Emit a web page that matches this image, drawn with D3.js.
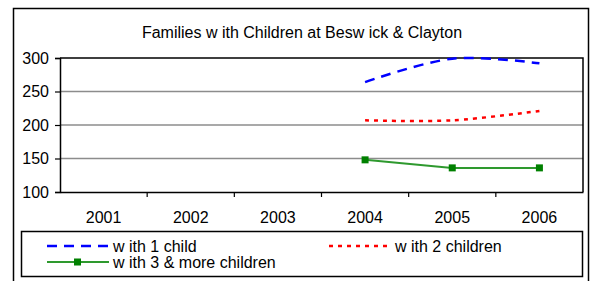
<!DOCTYPE html>
<html>
<head>
<meta charset="utf-8">
<script src="https://cdn.jsdelivr.net/npm/d3@7"></script>
<style>
body { margin: 0; background: #fff; }
text { font-family: "Liberation Sans", Arial, sans-serif; fill: #000; }
</style>
</head>
<body>
<div id="chart"></div>
<script>
var years = ["2001", "2002", "2003", "2004", "2005", "2006"];
var yTicks = [100, 150, 200, 250, 300];

// null = no value for that year
var oneChild = [null, null, null, 264, 299, 292];
var twoChildren = [null, null, null, 207, 207, 221];
var threeMore = [null, null, null, 148, 136, 136];

var title = "Families w ith Children at Besw ick & Clayton";
var seriesNames = ["w ith 1 child", "w ith 2 children", "w ith 3 & more children"];

var width = 590;
var height = 281;

var plot = {left: 60, right: 583, top: 58, bottom: 192};

var svg = d3.select("#chart")
	.append("svg")
	.attr("width", width)
	.attr("height", height);

// outer frame
svg.append("rect")
	.attr("x", 13.5).attr("y", 8.5)
	.attr("width", 575).attr("height", 290)
	.style("fill", "none").style("stroke", "#000").style("stroke-width", 1.5);

svg.append("text")
	.attr("x", 302).attr("y", 37.5)
	.attr("text-anchor", "middle")
	.style("font-size", "16px")
	.text(title);

var x = d3.scaleBand().domain(years).range([plot.left, plot.right]);
var y = d3.scaleLinear().domain([100, 300]).range([plot.bottom, plot.top]);

// grid
svg.append("g").selectAll("line").data(yTicks.slice(1, -1))
	.enter().append("line")
	.attr("x1", plot.left).attr("x2", plot.right)
	.attr("y1", function(d) { return y(d); })
	.attr("y2", function(d) { return y(d); })
	.style("stroke", "#8c8c8c").style("stroke-width", 1.5);

// frame top + right
svg.append("path")
	.attr("d", "M" + plot.left + "," + plot.top + "H" + plot.right + "V" + plot.bottom)
	.style("fill", "none").style("stroke", "#000").style("stroke-width", 1.5);

var yAxis = svg.append("g")
	.attr("transform", "translate(" + plot.left + ",0)")
	.call(d3.axisLeft(y).tickValues(yTicks).tickSize(5).tickPadding(6));

var xAxis = svg.append("g")
	.attr("transform", "translate(0," + plot.bottom + ")")
	.call(d3.axisBottom(x).tickSize(0).tickPadding(20));

// ticks between categories
xAxis.selectAll(".between").data(years.slice(1))
	.enter().append("line")
	.attr("class", "between")
	.attr("x1", function(d) { return x(d); })
	.attr("x2", function(d) { return x(d); })
	.attr("y1", 0).attr("y2", 5)
	.style("stroke", "#000").style("stroke-width", 1.2);

[yAxis, xAxis].forEach(function(a) {
	a.select(".domain").style("stroke", "#000").style("stroke-width", 1.5);
	a.selectAll(".tick line").style("stroke", "#000").style("stroke-width", 1.2);
	a.selectAll("text").style("font-size", "16px")
		.style("font-family", "'Liberation Sans', Arial, sans-serif").attr("fill", "#000");
});

function pts(vals) {
	return vals.map(function(v, i) { return {year: years[i], v: v}; })
		.filter(function(d) { return d.v != null; });
}

// excel style smoothing
var smooth = d3.line()
	.x(function(d) { return x(d.year) + x.bandwidth() / 2; })
	.y(function(d) { return y(d.v); })
	.curve(d3.curveCardinal.tension(0));

var straight = d3.line()
	.x(function(d) { return x(d.year) + x.bandwidth() / 2; })
	.y(function(d) { return y(d.v); });

svg.append("path")
	.attr("d", smooth(pts(oneChild)))
	.style("fill", "none").style("stroke", "#0000ff")
	.style("stroke-width", 2.5).style("stroke-dasharray", "10,7");

svg.append("path")
	.attr("d", smooth(pts(twoChildren)))
	.style("fill", "none").style("stroke", "#ff0000")
	.style("stroke-width", 2.5).style("stroke-dasharray", "4,5");

svg.append("path")
	.attr("d", straight(pts(threeMore)))
	.style("fill", "none").style("stroke", "#2e992e").style("stroke-width", 2);

svg.append("g").selectAll("rect").data(pts(threeMore))
	.enter().append("rect")
	.attr("x", function(d) { return x(d.year) + x.bandwidth() / 2 - 3.5; })
	.attr("y", function(d) { return y(d.v) - 3.5; })
	.attr("width", 7).attr("height", 7)
	.style("fill", "#008000");

// legend
var legend = svg.append("g");
legend.append("rect")
	.attr("x", 21.5).attr("y", 231.5)
	.attr("width", 561).attr("height", 45)
	.style("fill", "#fff").style("stroke", "#000").style("stroke-width", 1.5);

var legendItems = [
	{name: seriesNames[0], x: 47, y: 246, color: "#0000ff", dash: "10,7", marker: false},
	{name: seriesNames[1], x: 329, y: 246, color: "#ff0000", dash: "4,5", marker: false},
	{name: seriesNames[2], x: 47, y: 262, color: "#2e992e", dash: null, marker: true}
];

var li = legend.selectAll(".item").data(legendItems)
	.enter().append("g")
	.attr("class", "item")
	.attr("transform", function(d) { return "translate(" + d.x + "," + d.y + ")"; });

li.append("line")
	.attr("x1", 0).attr("x2", 62)
	.style("stroke", function(d) { return d.color; })
	.style("stroke-width", function(d) { return d.marker ? 2 : 2.5; })
	.style("stroke-dasharray", function(d) { return d.dash; });

li.filter(function(d) { return d.marker; }).append("rect")
	.attr("x", 27).attr("y", -3.5).attr("width", 7).attr("height", 7)
	.style("fill", "#008000");

li.append("text")
	.attr("x", 66).attr("y", 6)
	.style("font-size", "16px")
	.text(function(d) { return d.name; });
</script>
</body>
</html>
